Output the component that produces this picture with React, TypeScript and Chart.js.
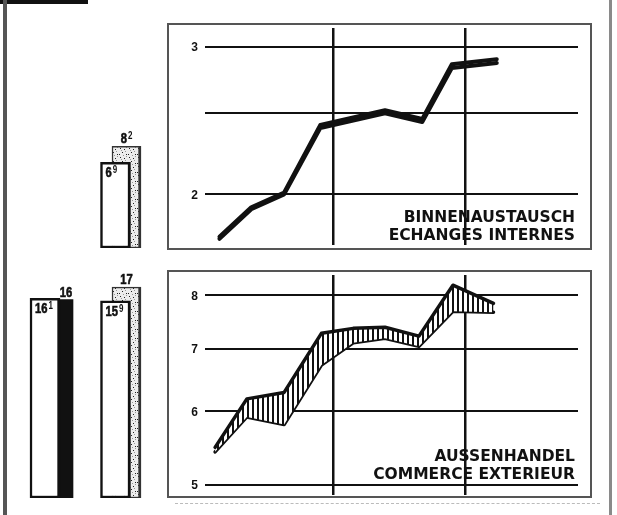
import React, { useEffect, useRef } from 'react';
import { Chart, registerables } from 'chart.js';

Chart.register(...registerables);

// ---------------- data ----------------
const yearBoundaryMonths = [12, 24];

// Binnenaustausch / Echanges internes (log scale)
const internalMonths = [1.6, 4.5, 7.5, 10.8, 16.7, 20.1, 22.8, 26.9];
const internalUpper = [1.78, 1.93, 2.01, 2.42, 2.52, 2.46, 2.86, 2.9];
const internalLower = [1.77, 1.92, 2.0, 2.4, 2.5, 2.44, 2.83, 2.87];
const internalTicks = [2, 2.5, 3];
const internalTickLabels = ['2', '', '3'];

// Aussenhandel / Commerce extérieur (log scale)
const externalMonths = [1.2, 4.1, 7.5, 10.9, 13.8, 16.7, 19.8, 22.9, 26.6];
const externalUpper = [5.49, 6.19, 6.29, 7.28, 7.37, 7.39, 7.23, 8.2, 7.84];
const externalLower = [5.43, 5.92, 5.81, 6.73, 7.11, 7.19, 7.05, 7.69, 7.67];
const externalTicks = [5, 6, 7, 8];
const externalTickLabels = ['5', '6', '7', '8'];

// Bar pictogram (columns 0 and 1)
const externalFrontColumns = [0, 1];
const externalFront = [16.1, 15.9];
const externalDarkColumns = [0];
const externalDark = [16.0];
const externalStippleColumns = [1];
const externalStipple = [17.0];
const internalFrontColumns = [1];
const internalFront = [6.9];
const internalStippleColumns = [1];
const internalStipple = [8.2];

// ---------------- layout / style ----------------
const INK = '#111';
const TICK_FONT = 'bold 12px "Liberation Sans", Arial, sans-serif';
const LABEL_FONT = '"Liberation Sans", Arial, sans-serif';
const LABEL_SQUEEZE = 0.8;
const CAPTION_FONT = '"DejaVu Sans", Verdana, sans-serif';
const BAR_UNIT_PX = 12.4;
const BAR_COL_SPACING = 70.5;
const BAR_FRONT_COL0 = 25;
const BAR_CANVAS_W = 130;

function makeHatch(): CanvasPattern | string {
  const c = document.createElement('canvas');
  c.width = 5;
  c.height = 5;
  const g = c.getContext('2d');
  if (!g) return '#888';
  g.fillStyle = '#fff';
  g.fillRect(0, 0, 5, 5);
  g.fillStyle = INK;
  g.fillRect(0, 0, 2, 5);
  return g.createPattern(c, 'repeat') || '#888';
}

function makeStipple(): CanvasPattern | string {
  const c = document.createElement('canvas');
  c.width = 9;
  c.height = 9;
  const g = c.getContext('2d');
  if (!g) return '#ddd';
  g.fillStyle = '#ececec';
  g.fillRect(0, 0, 9, 9);
  g.fillStyle = '#222';
  [[1, 1], [5, 2], [3, 5], [7, 7], [0, 7]].forEach(([x, y]) => g.fillRect(x, y, 1, 1));
  g.fillStyle = '#999';
  [[7, 0], [2, 3], [6, 4], [4, 8]].forEach(([x, y]) => g.fillRect(x, y, 1, 1));
  return g.createPattern(c, 'repeat') || '#ddd';
}

const framePlugin = {
  id: 'frame',
  beforeDraw(chart: any) {
    const { ctx, width, height } = chart;
    ctx.save();
    ctx.fillStyle = '#fff';
    ctx.fillRect(0, 0, width, height);
    ctx.strokeStyle = '#555';
    ctx.lineWidth = 2;
    ctx.strokeRect(1, 1, width - 2, height - 2);
    ctx.restore();
  },
  afterDraw(chart: any) {
    const { ctx, chartArea } = chart;
    const y = chart.scales.y;
    const labels: string[] = chart.options.plugins.frame.labels;
    ctx.save();
    ctx.font = TICK_FONT;
    ctx.fillStyle = INK;
    ctx.textAlign = 'right';
    ctx.textBaseline = 'middle';
    y.ticks.forEach((t: any, i: number) => {
      const text = labels[i];
      if (text) ctx.fillText(text, chartArea.left - 7, y.getPixelForValue(t.value) + 1);
    });
    ctx.restore();
  },
};

function drawDecimal(ctx: CanvasRenderingContext2D, v: number, x: number, baseline: number, centered: boolean) {
  const whole = Math.floor(v + 1e-9);
  const dec = Math.round((v - whole) * 10);
  const main = String(whole);
  const sup = dec ? String(dec) : '';
  ctx.font = `bold 14px ${LABEL_FONT}`;
  const wMain = ctx.measureText(main).width * LABEL_SQUEEZE;
  ctx.font = `bold 10px ${LABEL_FONT}`;
  const wSup = sup ? ctx.measureText(sup).width * LABEL_SQUEEZE + 1 : 0;
  const left = centered ? x - (wMain + wSup) / 2 : x;
  ctx.save();
  ctx.fillStyle = INK;
  ctx.strokeStyle = INK;
  ctx.lineWidth = 0.6;
  ctx.textAlign = 'left';
  ctx.textBaseline = 'alphabetic';
  ctx.translate(left, baseline);
  ctx.scale(LABEL_SQUEEZE, 1);
  ctx.font = `bold 14px ${LABEL_FONT}`;
  ctx.fillText(main, 0, 0);
  ctx.strokeText(main, 0, 0);
  if (sup) {
    ctx.font = `bold 10px ${LABEL_FONT}`;
    ctx.fillText(sup, (wMain + 1) / LABEL_SQUEEZE, -4);
  }
  ctx.restore();
}

const barLabelPlugin = {
  id: 'barLabels',
  afterDatasetsDraw(chart: any) {
    const ctx = chart.ctx;
    ctx.save();
    chart.data.datasets.forEach((ds: any, i: number) => {
      const meta = chart.getDatasetMeta(i);
      meta.data.forEach((el: any, j: number) => {
        const v = ds.data[j].y;
        if (ds.labelPlacement === 'inside') {
          drawDecimal(ctx, v, el.x - el.width / 2 + 5, el.y + 15, false);
        } else {
          drawDecimal(ctx, v, el.x, el.y - 3, true);
        }
      });
    });
    ctx.restore();
  },
};

function lineConfig(
  months: number[],
  upper: number[],
  lower: number[],
  ticks: number[],
  tickLabels: string[],
  yMin: number,
  yMax: number,
  hatched: boolean,
  padBottom: number,
  lineWidth: number
): any {
  return {
    type: 'line',
    data: {
      datasets: [
        {
          data: months.map((m, i) => ({ x: m, y: upper[i] })),
          borderColor: INK,
          borderWidth: lineWidth,
          pointRadius: 0,
          tension: 0,
          borderJoinStyle: 'round',
          borderCapStyle: 'round',
          fill: hatched ? '+1' : false,
          backgroundColor: hatched ? makeHatch() : 'transparent',
        },
        {
          data: months.map((m, i) => ({ x: m, y: lower[i] })),
          borderColor: INK,
          borderWidth: lineWidth,
          pointRadius: 0,
          tension: 0,
          borderJoinStyle: 'round',
          borderCapStyle: 'round',
          fill: false,
        },
      ],
    },
    options: {
      animation: false,
      responsive: false,
      events: [],
      layout: { padding: { top: 5, right: 14, bottom: padBottom, left: 38 } },
      plugins: { legend: { display: false }, tooltip: { enabled: false }, frame: { labels: tickLabels } },
      scales: {
        x: {
          type: 'linear',
          bounds: 'data',
          min: 0.28,
          max: 34.31,
          offset: false,
          afterBuildTicks: (s: any) => {
            s.ticks = yearBoundaryMonths.map((v) => ({ value: v }));
          },
          afterFit: (s: any) => {
            s.height = 0;
            s.paddingLeft = 0;
            s.paddingRight = 0;
          },
          ticks: { display: false },
          grid: { color: INK, lineWidth: 2.5, drawTicks: false },
          border: { display: false },
        },
        y: {
          type: 'logarithmic',
          bounds: 'data',
          min: yMin,
          max: yMax,
          afterBuildTicks: (s: any) => {
            s.ticks = ticks.map((v) => ({ value: v }));
          },
          afterFit: (s: any) => {
            s.width = 0;
            s.paddingTop = 0;
            s.paddingBottom = 0;
          },
          ticks: { display: false },
          grid: { color: INK, lineWidth: 2, drawTicks: false },
          border: { display: false },
        },
      },
    },
    plugins: [framePlugin],
  };
}

function barAxis(shiftPx: number) {
  const min = -(BAR_FRONT_COL0 + shiftPx) / BAR_COL_SPACING;
  return {
    type: 'linear',
    axis: 'x',
    bounds: 'data',
    display: false,
    offset: false,
    grid: { offset: false },
    min,
    max: min + BAR_CANVAS_W / BAR_COL_SPACING,
  };
}

function barConfig(height: number, sets: any[]): any {
  return {
    type: 'bar',
    data: { datasets: sets },
    options: {
      animation: false,
      responsive: false,
      events: [],
      layout: { padding: 0 },
      plugins: { legend: { display: false }, tooltip: { enabled: false } },
      scales: {
        xFront: barAxis(0),
        xDark: barAxis(21),
        xStipple: barAxis(11),
        y: { type: 'linear', bounds: 'data', display: false, min: 0, max: height / BAR_UNIT_PX },
      },
    },
    plugins: [barLabelPlugin],
  };
}

function frontSet(cols: number[], vals: number[]) {
  return {
    data: cols.map((c, i) => ({ x: c, y: vals[i] })),
    xAxisID: 'xFront',
    backgroundColor: '#fff',
    borderColor: INK,
    borderWidth: { top: 2.5, left: 2.5, bottom: 2.5, right: 3 },
    borderSkipped: false,
    barThickness: 30,
    grouped: false,
    order: 0,
    labelPlacement: 'inside',
  };
}

function stippleSet(cols: number[], vals: number[]) {
  return {
    data: cols.map((c, i) => ({ x: c, y: vals[i] })),
    xAxisID: 'xStipple',
    backgroundColor: makeStipple(),
    borderColor: '#333',
    borderWidth: { top: 1.5, left: 1.5, bottom: 1.5, right: 3 },
    borderSkipped: false,
    barThickness: 29,
    grouped: false,
    order: 1,
    labelPlacement: 'above',
  };
}

function darkSet(cols: number[], vals: number[]) {
  return {
    data: cols.map((c, i) => ({ x: c, y: vals[i] })),
    xAxisID: 'xDark',
    backgroundColor: INK,
    borderWidth: 0,
    barThickness: 14,
    grouped: false,
    order: 1,
    labelPlacement: 'above',
  };
}

function ChartCanvas({ make, left, top, width, height }: { make: () => any; left: number; top: number; width: number; height: number }) {
  const ref = useRef<HTMLCanvasElement | null>(null);
  useEffect(() => {
    const canvas = ref.current;
    if (!canvas) return;
    const chart = new Chart(canvas, make());
    return () => chart.destroy();
  }, []);
  return (
    <canvas
      ref={ref}
      width={width}
      height={height}
      style={{ position: 'absolute', left, top, width, height, display: 'block' }}
    />
  );
}

const captionStyle: React.CSSProperties = {
  position: 'absolute',
  left: 200,
  width: 375,
  textAlign: 'right',
  fontFamily: CAPTION_FONT,
  fontWeight: 'bold',
  fontSize: 15.5,
  lineHeight: '18px',
  color: INK,
  whiteSpace: 'nowrap',
};

export default function App() {
  return (
    <div
      style={{
        position: 'absolute',
        left: 0,
        top: 0,
        width: 617,
        height: 515,
        background: '#fff',
        overflow: 'hidden',
      }}
    >
      {/* page decorations */}
      <div style={{ position: 'absolute', left: 0, top: 0, width: 88, height: 4, background: INK }} />
      <div style={{ position: 'absolute', left: 3, top: 0, width: 4, height: 515, background: '#555' }} />
      <div style={{ position: 'absolute', left: 609, top: 0, width: 3, height: 515, background: '#8a8a8a' }} />
      <div style={{ position: 'absolute', left: 175, top: 503, width: 425, height: 0, borderTop: '1px dashed #bbb' }} />

      {/* bar pictogram */}
      <ChartCanvas
        left={20}
        top={120}
        width={BAR_CANVAS_W}
        height={128}
        make={() =>
          barConfig(128, [frontSet(internalFrontColumns, internalFront), stippleSet(internalStippleColumns, internalStipple)])
        }
      />
      <ChartCanvas
        left={20}
        top={250}
        width={BAR_CANVAS_W}
        height={248}
        make={() =>
          barConfig(248, [
            frontSet(externalFrontColumns, externalFront),
            darkSet(externalDarkColumns, externalDark),
            stippleSet(externalStippleColumns, externalStipple),
          ])
        }
      />

      {/* line panels */}
      <ChartCanvas
        left={167}
        top={23}
        width={425}
        height={227}
        make={() =>
          lineConfig(internalMonths, internalUpper, internalLower, internalTicks, internalTickLabels, 1.74, 3.16, false, 5, 4)
        }
      />
      <ChartCanvas
        left={167}
        top={270}
        width={425}
        height={228}
        make={() =>
          lineConfig(externalMonths, externalUpper, externalLower, externalTicks, externalTickLabels, 4.88, 8.41, true, 3, 3.5)
        }
      />

      <div style={{ ...captionStyle, top: 208 }}>
        BINNENAUSTAUSCH
        <br />
        ECHANGES INTERNES
      </div>
      <div style={{ ...captionStyle, top: 447 }}>
        AUSSENHANDEL
        <br />
        COMMERCE EXTERIEUR
      </div>
    </div>
  );
}
